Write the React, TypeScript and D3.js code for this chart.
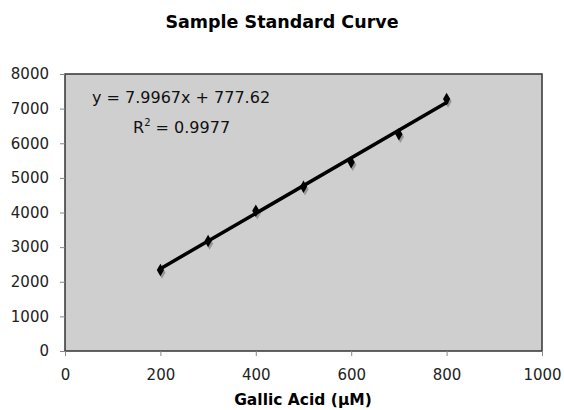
import * as d3 from "d3";
import React, { useRef, useEffect } from "react";

// gallic acid standards (µM) and measured signal
const concentrations = [200, 300, 400, 500, 600, 700, 800];
const signals = [2340, 3180, 4050, 4745, 5450, 6260, 7280];
const xTicks = [0, 200, 400, 600, 800, 1000];
const yTicks = [0, 1000, 2000, 3000, 4000, 5000, 6000, 7000, 8000];
const fitSlope = [7.9967];
const fitIntercept = [777.62];

function App() {
  const svgRef = useRef<SVGSVGElement>(null);

  useEffect(() => {
    const svg = d3.select(svgRef.current);
    svg.selectAll("*").remove();

    const width = 564;
    const height = 410;
    const margin = { top: 74, right: 22, bottom: 59, left: 65 };
    const font = "'DejaVu Sans', Verdana, sans-serif";

    const x = d3.scaleLinear().domain([0, 1000]).range([margin.left, width - margin.right]);
    const y = d3.scaleLinear().domain([0, 8000]).range([height - margin.bottom, margin.top]);

    // plot area
    svg
      .append("rect")
      .attr("x", x(0))
      .attr("y", y(8000))
      .attr("width", x(1000) - x(0))
      .attr("height", y(0) - y(8000))
      .attr("fill", "#cfcfcf")
      .attr("stroke", "#333")
      .attr("stroke-width", 1.5);

    // title
    svg
      .append("text")
      .attr("x", 282)
      .attr("y", 28)
      .attr("text-anchor", "middle")
      .style("font-family", font)
      .style("font-weight", "bold")
      .style("font-size", "17.5px")
      .text("Sample Standard Curve");

    // axes
    const xAxis = svg
      .append("g")
      .attr("transform", `translate(0,${y(0)})`)
      .call(d3.axisBottom(x).tickValues(xTicks).tickSize(5).tickPadding(13).tickFormat(d3.format("d")));
    const yAxis = svg
      .append("g")
      .attr("transform", `translate(${x(0)},0)`)
      .call(d3.axisLeft(y).tickValues(yTicks).tickSize(5).tickPadding(11).tickFormat(d3.format("d")));
    [xAxis, yAxis].forEach((g) => {
      g.select(".domain").remove();
      g.selectAll("line").attr("stroke", "#888");
      g.selectAll("text")
        .style("font-family", font)
        .style("font-size", "15px")
        .attr("fill", "#222");
    });

    // x axis label
    svg
      .append("text")
      .attr("x", 303)
      .attr("y", 405)
      .attr("text-anchor", "middle")
      .style("font-family", font)
      .style("font-weight", "bold")
      .style("font-size", "15.5px")
      .text("Gallic Acid (µM)");

    // points with a grey shadow
    const pts = concentrations.map((c, i) => [c, signals[i]]);
    const diamond = d3.symbol().type(d3.symbolDiamond).size(45);
    svg
      .append("g")
      .selectAll("path")
      .data(pts)
      .enter()
      .append("path")
      .attr("d", diamond)
      .attr("transform", (d) => `translate(${x(d[0]) + 1.5},${y(d[1]) + 2.5})`)
      .attr("fill", "#888")
      .attr("opacity", 0.8);
    svg
      .append("g")
      .selectAll("path")
      .data(pts)
      .enter()
      .append("path")
      .attr("d", diamond)
      .attr("transform", (d) => `translate(${x(d[0])},${y(d[1])})`)
      .attr("fill", "#000");

    // linear trend line
    const x0 = d3.min(concentrations)!;
    const x1 = d3.max(concentrations)!;
    svg
      .append("line")
      .attr("x1", x(x0))
      .attr("y1", y(fitSlope[0] * x0 + fitIntercept[0]))
      .attr("x2", x(x1))
      .attr("y2", y(fitSlope[0] * x1 + fitIntercept[0]))
      .attr("stroke", "#000")
      .attr("stroke-width", 3.5)
      .attr("stroke-linecap", "round");

    // equation
    svg
      .append("text")
      .attr("x", 92)
      .attr("y", 103)
      .style("font-family", font)
      .style("font-size", "16px")
      .attr("fill", "#111")
      .text(`y = ${fitSlope[0]}x + ${fitIntercept[0]}`);
    const r2 = svg
      .append("text")
      .attr("x", 133)
      .attr("y", 133)
      .style("font-family", font)
      .style("font-size", "16px")
      .attr("fill", "#111");
    r2.append("tspan").text("R");
    r2.append("tspan").attr("dy", -7).style("font-size", "10px").text("2");
    r2.append("tspan").attr("dy", 7).text(" = 0.9977");
  }, []);

  return (
    <svg
      ref={svgRef}
      width={564}
      height={410}
      style={{ position: "absolute", left: 0, top: 0, display: "block" }}
    />
  );
}

export default App;
